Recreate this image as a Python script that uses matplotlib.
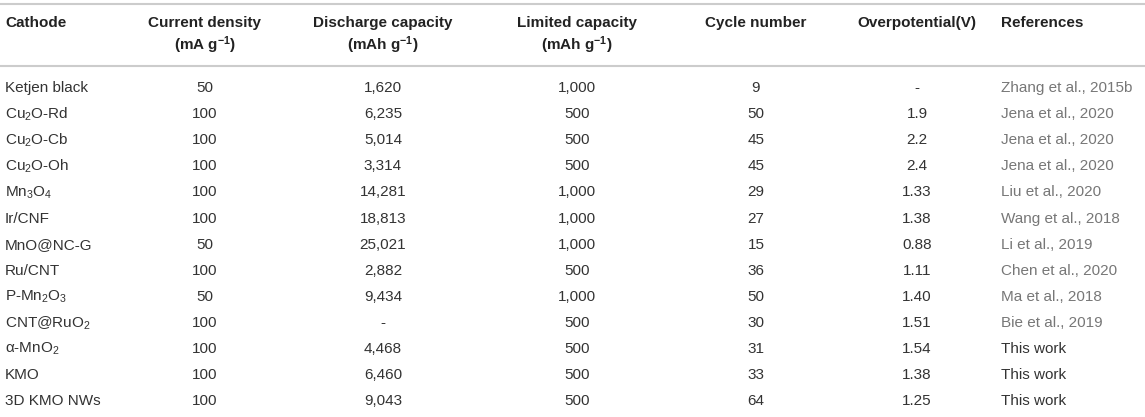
import matplotlib
matplotlib.use('Agg')
import matplotlib.pyplot as plt

plt.rcParams['font.family'] = ['Liberation Sans', 'DejaVu Sans']
plt.rcParams['mathtext.fontset'] = 'custom'
plt.rcParams['mathtext.rm'] = 'Liberation Sans'
plt.rcParams['mathtext.it'] = 'Liberation Sans:italic'
plt.rcParams['mathtext.bf'] = 'Liberation Sans:bold'
plt.rcParams['mathtext.default'] = 'regular'

# 表头
headers = [
    ('Cathode', ''),
    ('Current density', '(mA g$^{\\mathbf{-1}}$)'),
    ('Discharge capacity', '(mAh g$^{\\mathbf{-1}}$)'),
    ('Limited capacity', '(mAh g$^{\\mathbf{-1}}$)'),
    ('Cycle number', ''),
    ('Overpotential(V)', ''),
    ('References', ''),
]

# 表格数据
cathodes = ['Ketjen black', 'Cu$_2$O-Rd', 'Cu$_2$O-Cb', 'Cu$_2$O-Oh', 'Mn$_3$O$_4$',
            'Ir/CNF', 'MnO@NC-G', 'Ru/CNT', 'P-Mn$_2$O$_3$', 'CNT@RuO$_2$',
            'α-MnO$_2$', 'KMO', '3D KMO NWs']
current_density = ['50', '100', '100', '100', '100', '100', '50', '100', '50', '100',
                   '100', '100', '100']
discharge_capacity = ['1,620', '6,235', '5,014', '3,314', '14,281', '18,813', '25,021',
                      '2,882', '9,434', '-', '4,468', '6,460', '9,043']
limited_capacity = ['1,000', '500', '500', '500', '1,000', '1,000', '1,000', '500',
                    '1,000', '500', '500', '500', '500']
cycle_number = ['9', '50', '45', '45', '29', '27', '15', '36', '50', '30', '31', '33', '64']
overpotential = ['-', '1.9', '2.2', '2.4', '1.33', '1.38', '0.88', '1.11', '1.40', '1.51',
                 '1.54', '1.38', '1.25']
references = ['Zhang et al., 2015b', 'Jena et al., 2020', 'Jena et al., 2020',
              'Jena et al., 2020', 'Liu et al., 2020', 'Wang et al., 2018',
              'Li et al., 2019', 'Chen et al., 2020', 'Ma et al., 2018',
              'Bie et al., 2019', 'This work', 'This work', 'This work']

columns = [cathodes, current_density, discharge_capacity, limited_capacity,
           cycle_number, overpotential, references]

# 列位置（像素）和对齐方式
col_x = [5, 205, 383, 577, 756, 917, 1001]
col_ha = ['left', 'center', 'center', 'center', 'center', 'center', 'left']

fig = plt.figure(figsize=(11.45, 4.17), dpi=100)
ax = fig.add_axes([0, 0, 1, 1])
ax.set_xlim(0, 1145)
ax.set_ylim(417, 0)
ax.axis('off')

fs = 11
body_color = '#333333'
ref_color = '#777777'

# 横线
ax.axhline(4, color='#cccccc', lw=1.5)
ax.axhline(66, color='#cccccc', lw=1.5)

# 表头
for (line1, line2), x, ha in zip(headers, col_x, col_ha):
    ax.text(x, 23, line1, ha=ha, va='center', fontsize=fs, fontweight='bold', color='#222222')
    if line2:
        ax.text(x, 45, line2, ha=ha, va='center', fontsize=fs, fontweight='bold', color='#222222')

# 表体
row_y0 = 88
row_step = 26.1
for j, (col, x, ha) in enumerate(zip(columns, col_x, col_ha)):
    for i, val in enumerate(col):
        y = row_y0 + i * row_step
        color = body_color
        if j == 6 and val != 'This work':
            color = ref_color
        ax.text(x, y, val, ha=ha, va='center', fontsize=fs, color=color)

fig.savefig('out.png', dpi=100)
